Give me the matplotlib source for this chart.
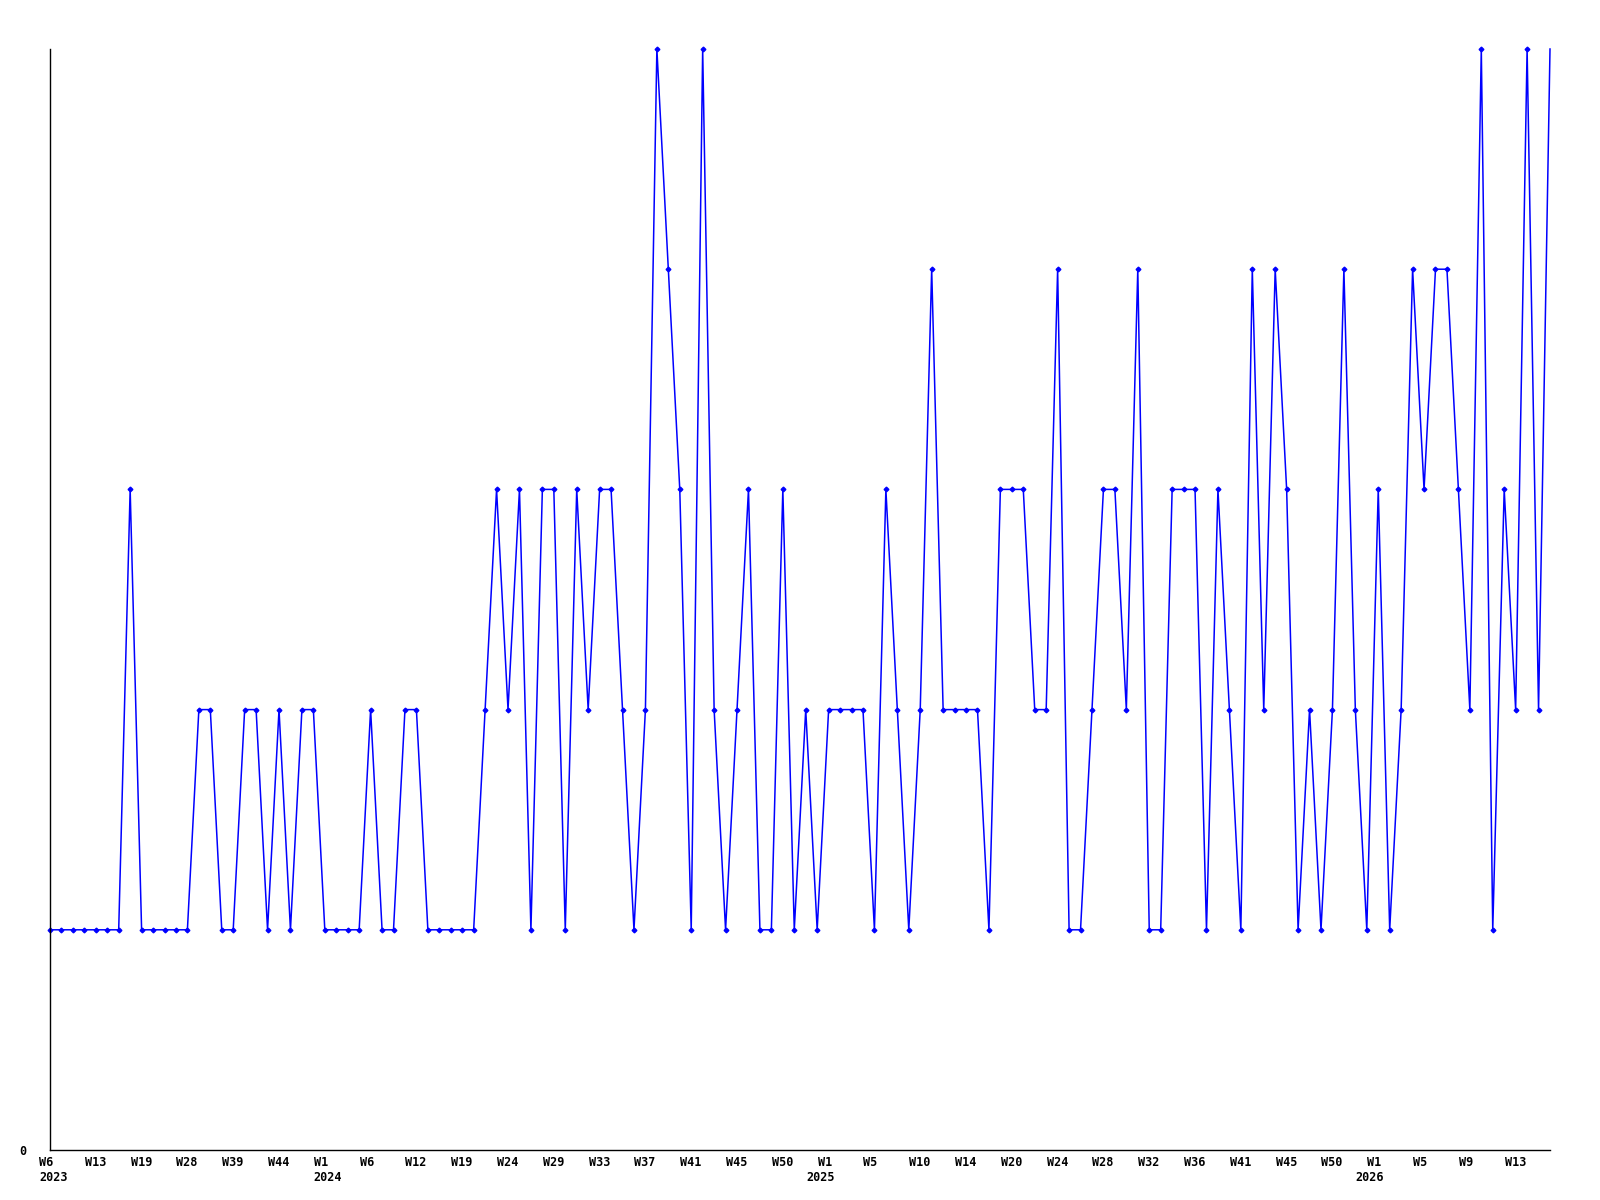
import matplotlib
matplotlib.use("Agg")
import matplotlib.pyplot as plt
from matplotlib.transforms import ScaledTranslation

# weekly counts (one point per sample)
values = [1, 1, 1, 1, 1, 1, 1, 3, 1, 1, 1, 1, 1, 2, 2, 1, 1, 2, 2, 1,
          2, 1, 2, 2, 1, 1, 1, 1, 2, 1, 1, 2, 2, 1, 1, 1, 1, 1, 2, 3,
          2, 3, 1, 3, 3, 1, 3, 2, 3, 3, 2, 1, 2, 5, 4, 3, 1, 5, 2, 1,
          2, 3, 1, 1, 3, 1, 2, 1, 2, 2, 2, 2, 1, 3, 2, 1, 2, 4, 2, 2,
          2, 2, 1, 3, 3, 3, 2, 2, 4, 1, 1, 2, 3, 3, 2, 4, 1, 1, 3, 3,
          3, 1, 3, 2, 1, 4, 2, 4, 3, 1, 2, 1, 2, 4, 2, 1, 3, 1, 2, 4,
          3, 4, 4, 3, 2, 5, 1, 3, 2, 5, 2, 5]

# every 4th point gets a week label
week_labels = ["W6", "W13", "W19", "W28", "W39", "W44", "W1", "W6", "W12",
               "W19", "W24", "W29", "W33", "W37", "W41", "W45", "W50", "W1",
               "W5", "W10", "W14", "W20", "W24", "W28", "W32", "W36", "W41",
               "W45", "W50", "W1", "W5", "W9", "W13"]
# year labels sit under the first sample of each year
year_pos = [0, 24, 67, 115]
year_labels = ["2023", "2024", "2025", "2026"]

x = list(range(len(values)))

fig = plt.figure(figsize=(16, 12), dpi=100)
ax = fig.add_axes([50 / 1600, 50 / 1200, 1500 / 1600, 1101 / 1200])

ax.plot(x, values, color="#0000ff", linewidth=1.1, clip_on=False)
# last sample has no marker in the original
ax.plot(x[:-1], values[:-1], color="#0000ff", linestyle="none",
        marker="D", markersize=2.4, clip_on=False)

ax.set_xlim(0, len(values) - 1)
ax.set_ylim(0, 5)

font = dict(fontfamily="DejaVu Sans Mono", fontweight="bold", fontsize=8.5)
ax.xaxis.remove_overlapping_locs = False
ax.set_xticks(x[::4])
ax.set_xticklabels(week_labels, ha="left", va="top", **font)
ax.set_xticks(year_pos, minor=True)
ax.set_xticklabels(year_labels, minor=True, ha="left", va="top", **font)
ax.set_yticks([0])
ax.set_yticklabels(["0"], **font)
ax.tick_params(axis="x", which="major", length=0, pad=4)
ax.tick_params(axis="x", which="minor", length=0, pad=15)
ax.tick_params(axis="y", length=0, pad=17)

# labels start a little left of their point
shift = ScaledTranslation(-11 / 100, 0, fig.dpi_scale_trans)
for lab in ax.get_xticklabels() + ax.get_xticklabels(minor=True):
    lab.set_transform(lab.get_transform() + shift)

ax.spines["top"].set_visible(False)
ax.spines["right"].set_visible(False)
ax.spines["left"].set_linewidth(1)
ax.spines["bottom"].set_linewidth(1)

fig.savefig("out.png", dpi=100)
